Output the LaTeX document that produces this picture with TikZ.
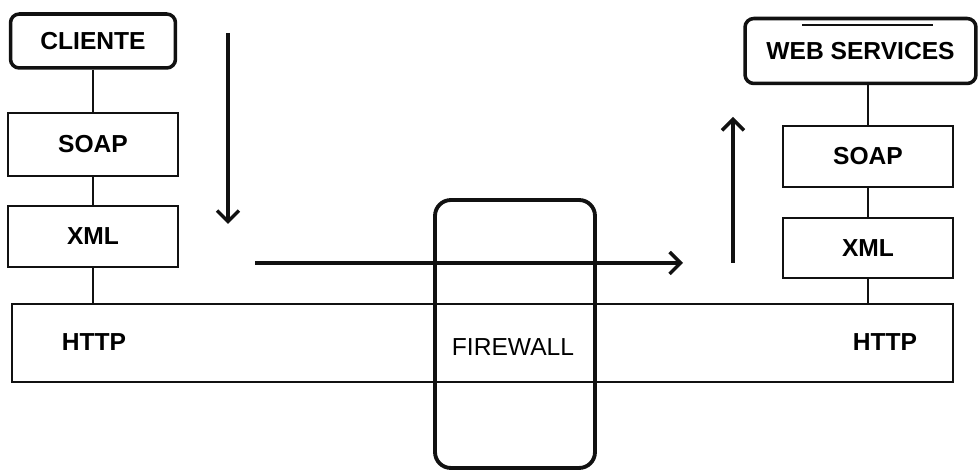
\documentclass[tikz,border=0pt]{standalone}
\usepackage{fontspec}
\setmainfont{Liberation Sans}
\usepackage{tikz}
\usetikzlibrary{positioning,arrows.meta,calc}
\definecolor{ink}{HTML}{111111}
\tikzset{
  layerbox/.style={draw=ink,line width=0.9pt,inner sep=0pt,align=center,font=\bfseries\fontsize{14}{16}\selectfont},
  endbox/.style={draw=ink,line width=2pt,rounded corners=5pt,inner sep=0pt,align=center,font=\bfseries\fontsize{14}{16}\selectfont},
  wallbox/.style={draw=ink,line width=2.2pt,rounded corners=9pt,inner sep=0pt},
  tag/.style={align=center,font=\bfseries\fontsize{14}{16}\selectfont},
  link/.style={draw=ink,line width=0.8pt},
  flow/.style={-{Straight Barb[length=2.2mm,width=4.4mm,line width=2pt]},draw=ink,line width=2pt}}
\begin{document}
\begin{tikzpicture}[x=0.02cm,y=-0.02cm]
  \useasboundingbox (0,0) rectangle (978,472);
  % client side
  \node[endbox,minimum width=3.3cm,minimum height=1.08cm] (cli) at (93,41) {CLIENTE};
  \node[layerbox,minimum width=3.4cm,minimum height=1.26cm] (soapL) at (93,144.5) {SOAP};
  \node[layerbox,minimum width=3.4cm,minimum height=1.22cm] (xmlL) at (93,236.5) {XML};
  % transport
  \node[layerbox,minimum width=18.82cm,minimum height=1.56cm] (http) at (482.5,343) {};
  \node[tag] (httpL) at (94,342) {HTTP};
  \node[tag] (httpR) at (885,342) {HTTP};
  % server side
  \node[endbox,minimum width=4.62cm,minimum height=1.3cm] (ws) at (860.5,51) {WEB SERVICES};
  \node[layerbox,minimum width=3.4cm,minimum height=1.22cm] (soapR) at (868,156.5) {SOAP};
  \node[layerbox,minimum width=3.4cm,minimum height=1.2cm] (xmlR) at (868,248) {XML};
  \draw[draw=ink,line width=1.1pt] (802,25) -- (933,25);
  % firewall
  \node[wallbox,minimum width=3.2cm,minimum height=5.36cm] (fw) at (515,334) {};
  \node[tag,font=\fontsize{14}{16}\selectfont] (fwtext) at (513,347) {FIREWALL};
  % links between layers
  \draw[link] (cli.south) -- (soapL.north);
  \draw[link] (soapL.south) -- (xmlL.north);
  \draw[link] (xmlL.south) -- (xmlL.south |- http.north);
  \draw[link] (soapR.north |- ws.south) -- (soapR.north);
  \draw[link] (soapR.south) -- (xmlR.north);
  \draw[link] (xmlR.south) -- (xmlR.south |- http.north);
  % message flow
  \coordinate (dnA) at (228,33);
  \coordinate (dnB) at (228,224);
  \coordinate (acA) at (255,263);
  \coordinate (acB) at (683,263);
  \coordinate (upA) at (733,263);
  \coordinate (upB) at (733,117);
  \draw[flow] (dnA) -- (dnB);
  \draw[flow] (acA) -- (acB);
  \draw[flow] (upA) -- (upB);
\end{tikzpicture}
\end{document}
